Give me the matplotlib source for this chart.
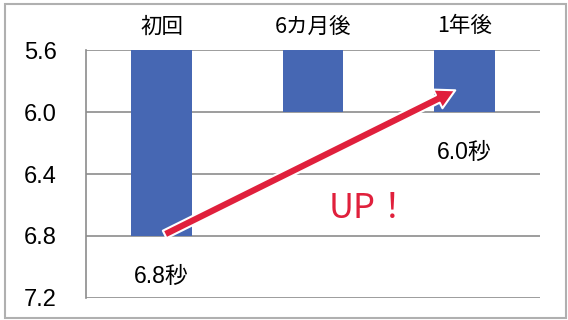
import matplotlib
matplotlib.use("Agg")
import matplotlib.pyplot as plt
from matplotlib.patches import Rectangle

plt.rcParams['font.family'] = ['Liberation Sans', 'Noto Sans CJK JP', 'DejaVu Sans']

# Sprint times (seconds) at each measurement
categories = ['初回', '6カ月後', '1年後']
times = [6.8, 6.0, 6.0]
time_labels = ['6.8秒', None, '6.0秒']
y_ticks = [5.6, 6.0, 6.4, 6.8, 7.2]
y_tick_labels = ['5.6', '6.0', '6.4', '6.8', '7.2']
base = 5.6

bar_color = '#4667b3'
red = '#e0203c'
grid_color = '#8c8c8c'

fig = plt.figure(figsize=(5.68, 3.2), dpi=100)
fig.patch.set_facecolor('white')
ax = fig.add_axes([0.1514, 0.06875, 0.7993, 0.775])

# outer frame around the figure
fig.add_artist(Rectangle((5 / 568, 2 / 320), 561 / 568, 314 / 320,
                         transform=fig.transFigure, fill=False,
                         edgecolor='#b0b0b0', linewidth=1.5))

x = list(range(len(categories)))
ax.bar(x, [t - base for t in times], bottom=base, width=0.4,
       color=bar_color, zorder=2)

ax.set_xlim(-0.5, 2.5)
ax.set_ylim(7.2, 5.6)
ax.set_yticks(y_ticks)
ax.set_yticklabels(y_tick_labels, fontsize=17)
ax.tick_params(axis='y', length=0, pad=21)
ax.xaxis.tick_top()
ax.set_xticks(x)
ax.set_xticklabels(categories, fontsize=15.5,
                   family=['Noto Sans CJK JP'], fontweight='normal')
ax.tick_params(axis='x', length=0, pad=9)
ax.yaxis.grid(True, color=grid_color, linewidth=1.2, zorder=1)
for s in ['top', 'right', 'bottom']:
    ax.spines[s].set_visible(False)
ax.spines['left'].set_color(grid_color)
ax.spines['left'].set_linewidth(1.2)

# value labels beneath the bars
for xi, t, lab in zip(x, times, time_labels):
    if lab:
        ax.annotate(lab, (xi, t), xytext=(0, -29), textcoords='offset points',
                    ha='center', va='center', fontsize=16.5)

# improvement arrow
ax.annotate('', xy=(1.94, 5.86), xytext=(0.02, 6.79),
            arrowprops=dict(arrowstyle='simple,tail_width=0.6,head_width=1.5,head_length=1.4',
                            mutation_scale=10, facecolor=red, edgecolor='white',
                            linewidth=1.5, shrinkA=0, shrinkB=0),
            zorder=4)

ax.text(1.1, 6.62, 'UP！', color=red, fontsize=25, ha='left', va='center',
        family=['Noto Sans CJK JP'])

fig.savefig('out.png', dpi=100)
